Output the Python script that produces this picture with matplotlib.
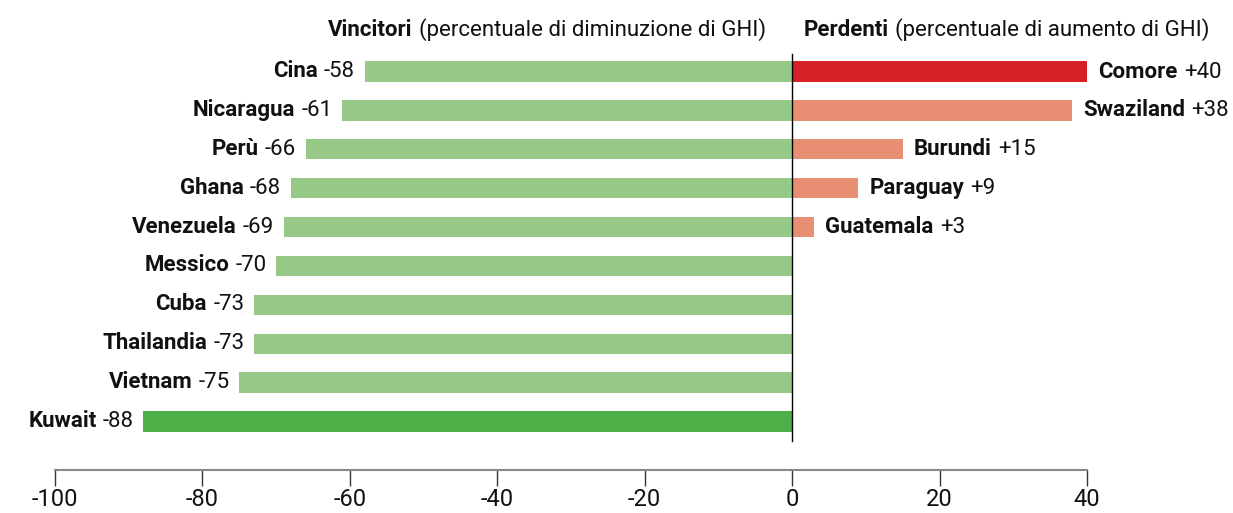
import matplotlib
matplotlib.use("Agg")
import matplotlib.pyplot as plt

plt.rcParams['font.family'] = ['Roboto', 'DejaVu Sans']

winners = ["Cina", "Nicaragua", "Perù", "Ghana", "Venezuela", "Messico",
           "Cuba", "Thailandia", "Vietnam", "Kuwait"]
winner_vals = [-58, -61, -66, -68, -69, -70, -73, -73, -75, -88]
losers = ["Comore", "Swaziland", "Burundi", "Paraguay", "Guatemala"]
loser_vals = [40, 38, 15, 9, 3]
xticks = [-100, -80, -60, -40, -20, 0, 20, 40]

LIGHT_GREEN = "#96C987"
DARK_GREEN = "#4CAF47"
RED = "#D71F26"
SALMON = "#E88E73"

FS = 16

fig = plt.figure(figsize=(12.33, 5.13), dpi=100)
ax = fig.add_axes([55 / 1233, 1 - 470 / 513, (1087 - 55) / 1233, (470 - 23) / 513])
ax.set_xlim(-100, 40)
ax.set_ylim(10.25, -1.25)

wy = list(range(len(winners)))
ly = list(range(len(losers)))
wcolors = [DARK_GREEN if v == min(winner_vals) else LIGHT_GREEN for v in winner_vals]
lcolors = [RED if v == max(loser_vals) else SALMON for v in loser_vals]
ax.barh(wy, winner_vals, height=0.52, color=wcolors, zorder=2)
ax.barh(ly, loser_vals, height=0.52, color=lcolors, zorder=2)

ax.plot([0, 0], [-0.46, 9.51], color="black", lw=1, zorder=3)

# winner labels
for name, v, y in zip(winners, winner_vals, wy):
    t = ax.annotate(f"{v}", xy=(v, y), xytext=(-7, 0), textcoords="offset points",
                    ha="right", va="center", fontsize=FS, color="#111")
    ax.annotate(name, xy=(0, 0), xycoords=t, xytext=(-4.5, 0), textcoords="offset points",
                ha="right", va="bottom", fontsize=FS, fontweight="bold", color="#111")

# loser labels
for name, v, y in zip(losers, loser_vals, ly):
    t = ax.annotate(name, xy=(v, y), xytext=(8, 0), textcoords="offset points",
                    ha="left", va="center", fontsize=FS, fontweight="bold", color="#111")
    ax.annotate(f"+{v}", xy=(1, 0), xycoords=t, xytext=(4.5, 0), textcoords="offset points",
                ha="left", va="bottom", fontsize=FS, color="#111")

# titles
ty = -1.08
t1 = ax.annotate("(percentuale di diminuzione di GHI)", xy=(0, ty), xytext=(-19, 0),
                 textcoords="offset points", ha="right", va="center", fontsize=FS, color="#111")
ax.annotate("Vincitori", xy=(0, 0), xycoords=t1, xytext=(-4.5, 0), textcoords="offset points",
            ha="right", va="bottom", fontsize=FS, fontweight="bold", color="#111")
t2 = ax.annotate("Perdenti", xy=(0, ty), xytext=(8, 0), textcoords="offset points",
                 ha="left", va="center", fontsize=FS, fontweight="bold", color="#111")
ax.annotate("(percentuale di aumento di GHI)", xy=(1, 0), xycoords=t2, xytext=(4.5, 0),
            textcoords="offset points", ha="left", va="bottom", fontsize=FS, color="#111")

for s in ["left", "right", "top"]:
    ax.spines[s].set_visible(False)
ax.spines["bottom"].set_color("#888888")
ax.spines["bottom"].set_linewidth(1.5)
ax.set_yticks([])
ax.set_xticks(xticks)
ax.set_xticklabels([str(x) for x in xticks])
ax.tick_params(axis="x", length=11.5, width=1, color="#333333", labelsize=17, pad=1.5,
               labelcolor="#111")

fig.savefig("out.png", dpi=100)
